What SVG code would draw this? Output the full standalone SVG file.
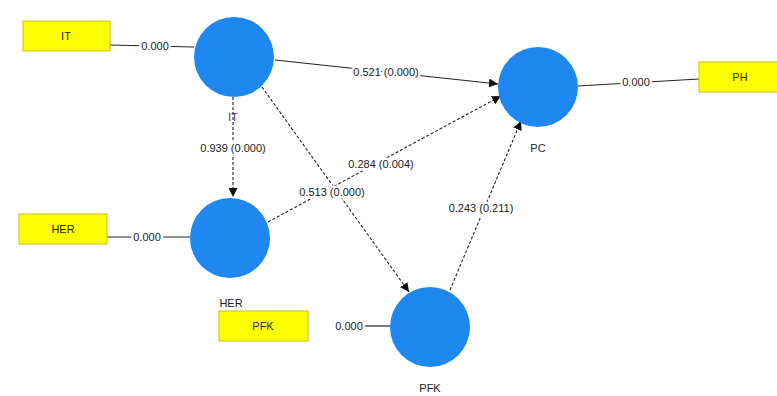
<svg xmlns="http://www.w3.org/2000/svg" width="777" height="396" viewBox="0 0 777 396">
  <style>
    .lv { fill: #1e88f0; }
    .mv { fill: #ffff00; stroke: #c9c200; stroke-width: 1; }
    .mvt { font-family: "Liberation Sans", Arial, sans-serif; font-size: 11px; fill: #222; text-anchor: middle; }
    .name { font-family: "Liberation Sans", Arial, sans-serif; font-size: 11px; fill: #222; text-anchor: middle; }
    .val { font-family: "Liberation Sans", Arial, sans-serif; font-size: 11px; fill: #222; text-anchor: middle;
           stroke: #ffffff; stroke-width: 5; paint-order: stroke; stroke-linejoin: round; }
    .solid { stroke: #222; stroke-width: 1.2; fill: none; }
    .dash { stroke: #222; stroke-width: 1.1; fill: none; stroke-dasharray: 3 2; }
  </style>
  <defs>
    <marker id="arrow" viewBox="0 0 10 10" refX="10" refY="5" markerWidth="9" markerHeight="9" markerUnits="userSpaceOnUse" orient="auto">
      <path d="M0,0 L10,5 L0,10 z" fill="#111"/>
    </marker>
  </defs>
  <rect width="777" height="396" fill="#ffffff"/>

  <g id="connectors">
    <!-- indicator links -->
    <line class="solid" x1="110" y1="45" x2="194" y2="47"/>
    <line class="solid" x1="107" y1="237" x2="190" y2="237"/>
    <line class="solid" x1="578" y1="86" x2="699" y2="79"/>
    <line class="solid" x1="362" y1="326" x2="390" y2="326"/>
    <!-- structural paths -->
    <line class="solid" x1="275" y1="60" x2="498" y2="84" marker-end="url(#arrow)"/>
    <line class="dash" x1="233" y1="97" x2="233" y2="197" marker-end="url(#arrow)"/>
    <line class="dash" x1="262" y1="87" x2="409" y2="292" marker-end="url(#arrow)"/>
    <line class="dash" x1="268" y1="222" x2="501" y2="96" marker-end="url(#arrow)"/>
    <line class="dash" x1="450" y1="290" x2="521" y2="121" marker-end="url(#arrow)"/>

    <text class="val" x="155" y="50">0.000</text>
    <text class="val" x="147" y="241">0.000</text>
    <text class="val" x="636" y="86">0.000</text>
    <text class="val" x="349" y="330">0.000</text>
    <text class="val" x="386" y="76">0.521 (0.000)</text>
    <text class="val" x="233" y="152">0.939 (0.000)</text>
    <text class="val" x="332" y="196">0.513 (0.000)</text>
    <text class="val" x="381" y="168">0.284 (0.004)</text>
    <text class="val" x="481" y="212">0.243 (0.211)</text>
  </g>

  <g id="IT">
    <circle class="lv" cx="234" cy="57" r="40"/>
    <text class="name" x="233" y="121" fill="#5b2c6f" style="fill:#5b2c6f">IT</text>
  </g>
  <g id="HER">
    <circle class="lv" cx="230" cy="238" r="40"/>
    <text class="name" x="231" y="307">HER</text>
  </g>
  <g id="PC">
    <circle class="lv" cx="538" cy="87" r="40"/>
    <text class="name" x="538" y="152">PC</text>
  </g>
  <g id="PFK">
    <circle class="lv" cx="430" cy="327" r="40"/>
    <text class="name" x="430" y="392">PFK</text>
  </g>

  <g id="IT-item">
    <rect class="mv" x="23" y="21" width="87" height="30"/>
    <text class="mvt" x="66" y="40">IT</text>
  </g>
  <g id="HER-item">
    <rect class="mv" x="19" y="214" width="88" height="30"/>
    <text class="mvt" x="63" y="233">HER</text>
  </g>
  <g id="PH-item">
    <rect class="mv" x="699" y="62" width="82" height="30"/>
    <text class="mvt" x="740" y="81">PH</text>
  </g>
  <g id="PFK-item">
    <rect class="mv" x="219" y="311" width="89" height="30"/>
    <text class="mvt" x="263" y="330">PFK</text>
  </g>
</svg>
